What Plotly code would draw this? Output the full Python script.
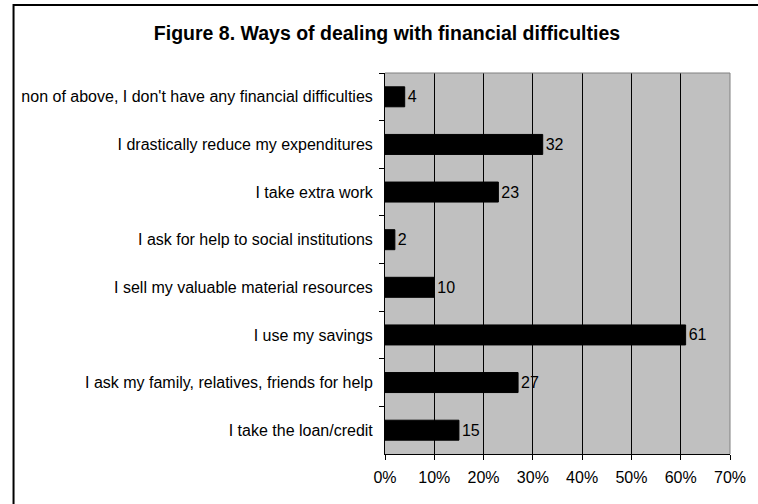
import plotly.graph_objects as go

# Survey answers, listed top to bottom as they appear on the chart
categories = [
    "non of above, I don't have any financial difficulties",
    "I drastically reduce my expenditures",
    "I take extra work",
    "I ask for help to social institutions",
    "I sell my valuable material resources",
    "I use my savings",
    "I ask my family, relatives, friends for help",
    "I take the loan/credit",
]
shares = [4, 32, 23, 2, 10, 61, 27, 15]  # percent of respondents
x_ticks = [0, 10, 20, 30, 40, 50, 60, 70]
x_tick_labels = [f"{v}%" for v in x_ticks]

W, H = 758, 504
ML, MR, MT, MB = 385, 21, 73, 50
pw, ph = W - ML - MR, H - MT - MB

FONT = "Liberation Sans, Arial, sans-serif"

fig = go.Figure(
    go.Bar(
        x=shares,
        y=categories,
        orientation="h",
        marker=dict(color="black", line=dict(color="black", width=1)),
        width=0.42,
        text=[str(v) for v in shares],
        textposition="outside",
        textfont=dict(family=FONT, size=16, color="black"),
        cliponaxis=False,
    )
)

fig.update_layout(
    width=W,
    height=H,
    margin=dict(l=ML, r=MR, t=MT, b=MB, pad=0),
    paper_bgcolor="white",
    plot_bgcolor="#C0C0C0",
    showlegend=False,
    font=dict(family=FONT, size=16, color="black"),
    title=dict(
        text="<b>Figure 8. Ways of dealing with financial difficulties</b>",
        x=387 / W,
        xanchor="center",
        y=1 - 33 / H,
        yanchor="middle",
        font=dict(family=FONT, size=19.5, color="black"),
    ),
)

fig.update_xaxes(
    range=[0, 70],
    tickvals=x_ticks,
    ticktext=x_tick_labels,
    showgrid=True,
    gridcolor="black",
    gridwidth=1,
    zeroline=False,
    showline=True,
    linecolor="black",
    linewidth=1,
    ticks="outside",
    ticklen=5,
    tickcolor="black",
    tickfont=dict(family=FONT, size=16, color="black"),
    ticklabelstandoff=4,
    mirror=False,
)

fig.update_yaxes(
    autorange="reversed",
    type="category",
    tickson="boundaries",
    showgrid=False,
    showline=True,
    linecolor="black",
    linewidth=1,
    ticks="outside",
    ticklen=5,
    tickcolor="black",
    tickfont=dict(family=FONT, size=16, color="black"),
    ticklabelstandoff=8,
)

# Thin gray edge on the top and right of the plotting area
fig.add_shape(type="line", xref="paper", yref="paper", x0=0, x1=1, y0=1, y1=1,
              line=dict(color="#808080", width=1))
fig.add_shape(type="line", xref="paper", yref="paper", x0=1, x1=1, y0=0, y1=1,
              line=dict(color="#808080", width=1))

# Frame around the whole figure (its right and bottom edges run past the page)
def px_to_paper_x(px):
    return (px - ML) / pw

def px_to_paper_y(py):
    return 1 - (py - MT) / ph

fig.add_shape(
    type="rect", xref="paper", yref="paper",
    x0=px_to_paper_x(6), x1=px_to_paper_x(770),
    y0=px_to_paper_y(520), y1=px_to_paper_y(5),
    line=dict(color="black", width=2),
    fillcolor="rgba(0,0,0,0)",
    layer="above",
)

fig.write_html("out.html")
